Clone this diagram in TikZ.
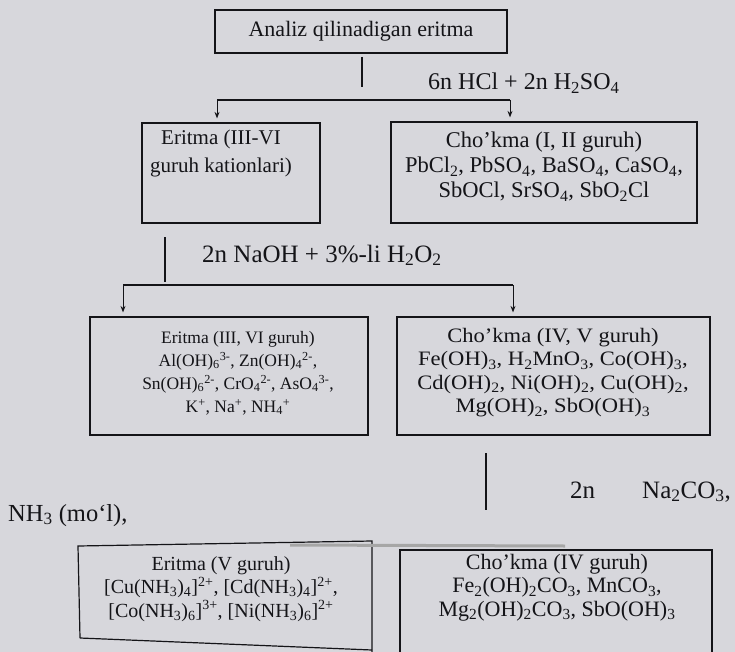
\documentclass[tikz,border=0pt]{standalone}
\usepackage{fontspec}
\setmainfont{Liberation Serif}
\newfontfamily\wideserif[FakeStretch=1.1]{Liberation Serif}
\usetikzlibrary{arrows.meta}
\definecolor{paper}{RGB}{215,215,220}
\definecolor{ink}{RGB}{20,20,24}
\newcommand{\chsub}[1]{\textsubscript{#1}}
\newcommand{\chsup}[1]{\textsuperscript{#1}}
\newcommand{\fsz}[2]{\fontsize{#1}{#2}\selectfont}
\tikzset{
  frame/.style={draw=ink, line width=1.2pt, inner sep=0pt},
  txt/.style={align=center, inner sep=0pt, text=ink, anchor=north},
  lbl/.style={inner sep=0pt, text=ink, anchor=base west},
  ln/.style={draw=ink, line width=1.2pt},
  arr/.style={draw=ink, line width=1pt, shorten >=4pt, -{Stealth[length=6.5pt,width=5pt]}},
}
\begin{document}
\begin{tikzpicture}[x=1pt,y=-1pt]
\fill[paper] (0,0) rectangle (735,652);
\useasboundingbox (0,0) rectangle (735,652);

% top box
\node[frame, font=\fsz{22}{26}, text=ink, minimum width=292pt, minimum height=43pt] (b1) at (361,31.5) {Analiz qilinadigan eritma};

% second row
\node[frame, minimum width=178pt, minimum height=100pt] (b2L) at (231,173) {};
\node[frame, minimum width=306pt, minimum height=101pt] (b2R) at (544,172.5) {};
\node[txt, font=\fsz{21}{28}] (t2L) at (221,130) {Eritma (III-VI\\guruh kationlari)};
\node[txt, font=\fsz{22.5}{25}] (t2R) at (544,132) {Cho’kma (I, II guruh)\\PbCl\chsub{2}, PbSO\chsub{4}, BaSO\chsub{4}, CaSO\chsub{4},\\SbOCl, SrSO\chsub{4}, SbO\chsub{2}Cl};

% third row
\node[frame, minimum width=278pt, minimum height=118pt] (b3L) at (229,376) {};
\node[frame, minimum width=313pt, minimum height=118pt] (b3R) at (553.5,376) {};
\node[txt, font=\fsz{17.5}{23}] (t3L) at (238,331) {Eritma (III, VI guruh)\\Al(OH)\chsub{6}\chsup{3-}, Zn(OH)\chsub{4}\chsup{2-},\\Sn(OH)\chsub{6}\chsup{2-}, CrO\chsub{4}\chsup{2-}, AsO\chsub{4}\chsup{3-},\\K\chsup{+}, Na\chsup{+}, NH\chsub{4}\chsup{+}};
\node[txt, font=\wideserif\fsz{20.5}{23.5}] (t3R) at (553,328) {Cho’kma (IV, V guruh)\\Fe(OH)\chsub{3}, H\chsub{2}MnO\chsub{3}, Co(OH)\chsub{3},\\Cd(OH)\chsub{2}, Ni(OH)\chsub{2}, Cu(OH)\chsub{2},\\Mg(OH)\chsub{2}, SbO(OH)\chsub{3}};

% reagent labels
\node[lbl, font=\fsz{24}{28}] (r1) at (428,90) {6n HCl + 2n H\chsub{2}SO\chsub{4}};
\node[lbl, font=\fsz{25}{29}] (r2) at (202,262) {2n NaOH + 3\%-li H\chsub{2}O\chsub{2}};
\node[lbl, font=\fsz{25}{29}] (r3a) at (570,498) {2n};
\node[lbl, font=\fsz{25}{29}] (r3b) at (642,498) {Na\chsub{2}CO\chsub{3},};
\node[lbl, font=\fsz{24.5}{28}] (r4) at (8,521) {NH\chsub{3} (mo‘l),};

% connectors, first split
\coordinate (v1a) at (362,57);
\coordinate (v1b) at (362,87);
\coordinate (h1l) at (217,100);
\coordinate (h1r) at (510,100);
\draw[ln] (v1a) -- (v1b);
\draw[ln] (h1l) -- (h1r);
\draw[arr] (h1l) -- (h1l |- b2L.north);
\draw[arr] (h1r) -- (h1r |- b2R.north);

% connectors, second split
\coordinate (v2a) at (165,237);
\coordinate (v2b) at (165,282);
\coordinate (h2l) at (123,285);
\coordinate (h2r) at (513,285);
\draw[ln] (v2a) -- (v2b);
\draw[ln] (h2l) -- (h2r);
\draw[arr] (h2l) -- (h2l |- b3L.north);
\draw[arr] (h2r) -- (h2r |- b3R.north);

% third stage
\coordinate (v3a) at (486,453);
\coordinate (v3b) at (486,510);
\draw[ln] (v3a) -- (v3b);

% bottom-left box (slightly skewed frame)
\coordinate (q1) at (78,546);
\coordinate (q2) at (372,541);
\coordinate (q3) at (372,652);
\coordinate (q4) at (372,650);
\coordinate (q5) at (80,638);
\draw[ln] (q5) -- (q1) -- (q2) -- (q3);
\draw[ln] (q5) -- (q4);
\node[txt, font=\fsz{20}{23.5}] (t4L) at (221,556) {Eritma (V guruh)\\{}[Cu(NH\chsub{3})\chsub{4}]\chsup{2+}, [Cd(NH\chsub{3})\chsub{4}]\chsup{2+},\\{}[Co(NH\chsub{3})\chsub{6}]\chsup{3+}, [Ni(NH\chsub{3})\chsub{6}]\chsup{2+}};

% bottom-right box (lower edge outside the page)
\coordinate (p1) at (400,652);
\coordinate (p2) at (400,550);
\coordinate (p3) at (712,550);
\coordinate (p4) at (712,652);
\draw[ln] (p1) -- (p2) -- (p3) -- (p4);
\node[txt, font=\fsz{22}{23.5}] (t4R) at (557,554) {Cho’kma (IV guruh)\\Fe\chsub{2}(OH)\chsub{2}CO\chsub{3}, MnCO\chsub{3},\\Mg\chsub{2}(OH)\chsub{2}CO\chsub{3}, SbO(OH)\chsub{3}};

% heavy grey stroke across the two lower frames
\coordinate (g1) at (290,545);
\coordinate (g2) at (565,546);
\draw[line width=3pt, gray!70] (g1) -- (g2);
\end{tikzpicture}
\end{document}
